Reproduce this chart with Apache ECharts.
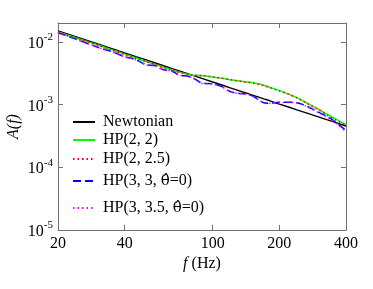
<!DOCTYPE html>
<html><head><meta charset="utf-8">
<script src="https://cdn.jsdelivr.net/npm/echarts@6/dist/echarts.min.js"></script>
<style>html,body{margin:0;padding:0;background:#fff}#c{width:373px;height:289px}</style>
</head><body><div id="c"></div>
<script>
const freq = [20,25,30,35,40,45,50,55,60,65,70,80,90,100,110,120,130,140,150,160,170,180,200,220,240,260,280,300,330,360,400];
const newtonian = [0.01500,0.01156,0.00935,0.00781,0.00668,0.00582,0.00515,0.00461,0.00416,0.00379,0.00348,0.00297,0.00259,0.00229,0.00205,0.00185,0.00169,0.00155,0.00143,0.00133,0.00123,0.00116,0.00102,0.000914,0.000826,0.000753,0.000690,0.000638,0.000570,0.000515,0.000455];
const hp22 = [0.01443,0.01112,0.00899,0.00746,0.00637,0.00552,0.00487,0.00436,0.00395,0.00361,0.00331,0.00296,0.00289,0.00275,0.00262,0.00249,0.00239,0.00231,0.00225,0.00215,0.00204,0.00190,0.00167,0.00147,0.00129,0.00111,0.000960,0.000845,0.000691,0.000585,0.000478];
const hp225 = [0.01440,0.01105,0.00895,0.00742,0.00633,0.00549,0.00484,0.00433,0.00392,0.00358,0.00330,0.00297,0.00290,0.00277,0.00264,0.00250,0.00238,0.00228,0.00221,0.00211,0.00200,0.00188,0.00165,0.00146,0.00128,0.00110,0.000950,0.000830,0.000675,0.000570,0.000465];
const hp33 = [0.01402,0.01052,0.00829,0.00698,0.00581,0.00520,0.00433,0.00417,0.00360,0.00347,0.00300,0.00274,0.00219,0.00215,0.00193,0.00161,0.00152,0.00147,0.00139,0.00122,0.00107,0.00105,0.00109,0.00109,0.00107,0.000978,0.000861,0.000757,0.000641,0.000524,0.000384];
const hp335 = [0.01395,0.01048,0.00825,0.00695,0.00578,0.00516,0.00430,0.00414,0.00357,0.00344,0.00298,0.00271,0.00217,0.00213,0.00191,0.00160,0.00151,0.00146,0.00138,0.00121,0.00106,0.00104,0.00108,0.00108,0.00106,0.000965,0.000850,0.000745,0.000625,0.000505,0.000365];
const xTicks = [20,40,100,200,400];
const yTicks = [1e-5,1e-4,1e-3,1e-2];
const names = ['Newtonian','HP(2, 2)','HP(2, 2.5)','HP(3, 3, \u03B8\u0302=0)','HP(3, 3.5, \u03B8\u0302=0)'];

const FONT = 'Liberation Serif';
const AX = '#707070';
const pair = arr => freq.map((f,i)=>[f,arr[i]]);

const chart = echarts.init(document.getElementById('c'), null, {renderer:'canvas'});
const xBase = {type:'log', logBase:10, min:20, max:400, gridIndex:0,
  axisLine:{show:true, onZero:false, lineStyle:{color:AX, width:1}},
  splitLine:{show:false}, minorTick:{show:false}};
const yBase = {type:'log', logBase:10, min:1e-5, max:0.02, gridIndex:0,
  axisLine:{show:true, onZero:false, lineStyle:{color:AX, width:1}},
  splitLine:{show:false}, minorTick:{show:false}};

const legendTops = [114, 132, 151, 173, 200];

const option = {
  animation:false,
  backgroundColor:'#fff',
  grid:{left:58, right:27, top:23, bottom:59, containLabel:false, outerBoundsMode:'none'},
  xAxis:[
    Object.assign({}, xBase, {position:'bottom',
      name:'{i|f} (Hz)', nameLocation:'middle', nameGap:26, nameMoveOverlap:false,
      nameTextStyle:{fontFamily:FONT, fontSize:16, color:'#000',
        rich:{i:{fontFamily:FONT, fontSize:16, fontStyle:'italic', color:'#000'}}},
      axisTick:{show:true, inside:true, length:5, lineStyle:{color:AX}, customValues:[40,100,200]},
      axisLabel:{show:true, margin:6, fontFamily:FONT, fontSize:16, color:'#000', customValues:xTicks,
        formatter: v => String(Math.round(v))}}),
    Object.assign({}, xBase, {position:'top',
      axisTick:{show:true, inside:true, length:5, lineStyle:{color:AX}, customValues:[40,100,200]},
      axisLabel:{show:false}})
  ],
  yAxis:[
    Object.assign({}, yBase, {position:'left',
      name:'A(f)', nameLocation:'middle', nameGap:36, nameRotate:90, nameMoveOverlap:false,
      nameTextStyle:{fontFamily:FONT, fontSize:16, fontStyle:'italic', color:'#000'},
      axisTick:{show:true, inside:true, length:5, lineStyle:{color:AX}, customValues:[1e-4,1e-3,1e-2]},
      axisLabel:{show:true, margin:5, customValues:yTicks,
        formatter: v => '{b|10}{s|' + Math.round(Math.log10(v)) + '}',
        rich:{
          b:{fontFamily:FONT, fontSize:16, color:'#000', lineHeight:20, verticalAlign:'bottom'},
          s:{fontFamily:FONT, fontSize:11, color:'#000', lineHeight:11, verticalAlign:'top'}
        }}}),
    Object.assign({}, yBase, {position:'right',
      axisTick:{show:true, inside:true, length:5, lineStyle:{color:AX}, customValues:[1e-4,1e-3,1e-2]},
      axisLabel:{show:false}})
  ],
  legend: names.map((n,i)=>({
    data:[n], left:72, top:legendTops[i], orient:'vertical',
    itemWidth:22, itemHeight:12, itemGap:0, padding:0,
    itemStyle:{opacity:0},
    formatter: s => s.replace('\u03B8\u0302', '{t|\u03B8\u0302}'),
    textStyle:{fontFamily:FONT, fontSize:16, color:'#000', padding:[0,0,0,3],
      rich:{t:{fontFamily:'DejaVu Serif', fontSize:15, color:'#000'}}},
    selectedMode:false
  })),
  series:[
    {name:names[0], type:'line', data:pair(newtonian), symbol:'none', smooth:false,
      lineStyle:{color:'#000', width:1.4}, itemStyle:{color:'#000'}, z:2},
    {name:names[1], type:'line', data:pair(hp22), symbol:'none', smooth:0.3,
      lineStyle:{color:'#00ff00', width:1.5}, itemStyle:{color:'#00ff00'}, z:3},
    {name:names[2], type:'line', data:pair(hp225), symbol:'none', smooth:0.3,
      lineStyle:{color:'#ff0000', width:1.5, type:[1.5,3]}, itemStyle:{color:'#ff0000'}, z:4},
    {name:names[3], type:'line', data:pair(hp33), symbol:'none', smooth:0.3,
      lineStyle:{color:'#0000ff', width:1.5, type:[8,4]}, itemStyle:{color:'#0000ff'}, z:5},
    {name:names[4], type:'line', data:pair(hp335), symbol:'none', smooth:0.3,
      lineStyle:{color:'#ff00ff', width:1.5, type:[1.5,3]}, itemStyle:{color:'#ff00ff'}, z:6}
  ]
};
chart.setOption(option);
</script></body></html>
